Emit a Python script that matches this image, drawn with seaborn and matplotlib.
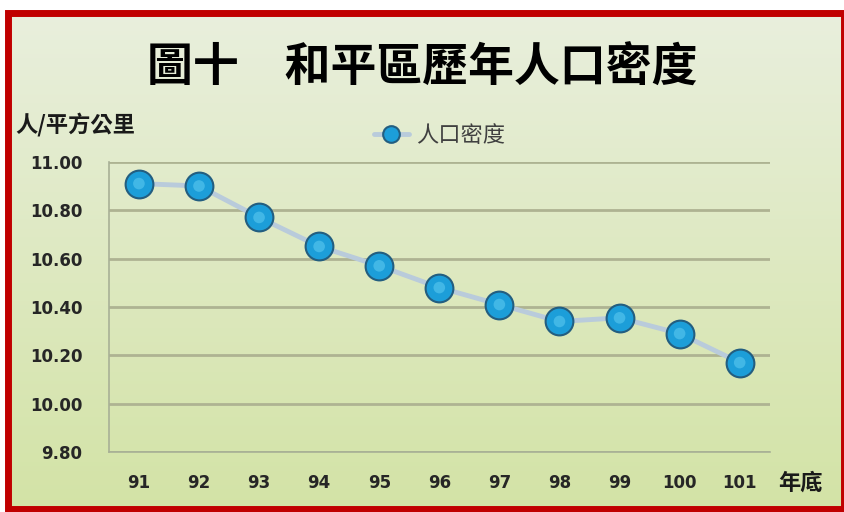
import numpy as np
import pandas as pd
import matplotlib
matplotlib.use("Agg")
import matplotlib.pyplot as plt
import seaborn as sns

years = ["91", "92", "93", "94", "95", "96", "97", "98", "99", "100", "101"]
density = [10.91, 10.90, 10.77, 10.65, 10.57, 10.48, 10.41, 10.34, 10.355, 10.29, 10.17]
y_ticks = [9.80, 10.00, 10.20, 10.40, 10.60, 10.80, 11.00]

title = "圖十　和平區歷年人口密度"
series_name = "人口密度"
y_unit = "人/平方公里"
x_unit = "年底"

sns.set_style("white")
plt.rcParams["font.family"] = ["Noto Sans CJK TC", "DejaVu Sans"]

df = pd.DataFrame({"year": years, series_name: density})

fig = plt.figure(figsize=(8.44, 5.12), dpi=100)

# background gradient + red frame
bg = fig.add_axes([0, 0, 1, 1], zorder=-10)
grad = np.linspace(0, 1, 256).reshape(-1, 1)
cmap = matplotlib.colors.LinearSegmentedColormap.from_list("bg", ["#E9EFDD", "#D3E3A6"])
bg.imshow(grad, aspect="auto", cmap=cmap, extent=[0.012, 0.998, 0.008, 0.975])
bg.add_patch(plt.Rectangle((0.0095, 0.006), 0.99, 0.969, fill=False,
                           edgecolor="#C00000", linewidth=5, transform=bg.transAxes))
bg.set_xlim(0, 1)
bg.set_ylim(0, 1)
bg.axis("off")

ax = fig.add_axes([0.129, 0.117, 0.783, 0.567])
ax.patch.set_alpha(0)

sns.lineplot(data=df, x="year", y=series_name, ax=ax, color="#B9CBDB", linewidth=3.5,
             marker="o", markersize=20, markerfacecolor="#1C9ED9",
             markeredgecolor="#235E80", markeredgewidth=1.5, label=series_name, zorder=3)
# highlight on the spheres
sns.scatterplot(data=df, x="year", y=series_name, ax=ax, s=70, color="#6FD6F6",
                 edgecolor="none", alpha=0.45, zorder=4, legend=False)

ax.set_xlim(-0.5, len(years) - 0.5)
ax.set_ylim(9.8, 11.0)
ax.set_yticks(y_ticks)
ax.set_yticklabels([f"{v:.2f}" for v in y_ticks], fontsize=12, fontweight="bold",
                   color="#262626", family="DejaVu Sans")
ax.set_xticks(range(len(years)))
ax.set_xticklabels(years, fontsize=12, fontweight="bold", color="#262626",
                   family="DejaVu Sans")
ax.set_xticks(np.arange(-0.5, len(years)), minor=True)
ax.tick_params(axis="x", which="major", length=0, pad=16)
ax.tick_params(axis="x", which="minor", length=6, color="#9AA58A", width=1)
ax.tick_params(axis="y", length=0, pad=19)
ax.grid(axis="y", color="#AEB392", linewidth=2)
ax.set_axisbelow(True)
for side in ["top", "right"]:
    ax.spines[side].set_visible(False)
ax.spines["left"].set_color("#A8B096")
ax.spines["bottom"].set_color("#A8B096")
ax.spines["left"].set_linewidth(1.2)
ax.spines["bottom"].set_linewidth(1.2)
ax.set_xlabel("")
ax.set_ylabel("")

leg = ax.legend(loc="upper center", bbox_to_anchor=(0.5, 1.2), frameon=False,
                fontsize=16, handlelength=1.6, handletextpad=0.3, markerscale=0.6)
for t in leg.get_texts():
    t.set_color("#404040")

fig.text(0.5, 0.866, title, ha="center", va="center", fontsize=33, fontweight="bold",
         color="#000000")
fig.text(0.018, 0.757, y_unit, ha="left", va="center", fontsize=16, fontweight="bold",
         color="#1A1A1A")
fig.text(0.948, 0.056, x_unit, ha="center", va="center", fontsize=16, fontweight="bold",
         color="#1A1A1A")

fig.savefig("out.png", dpi=100)
